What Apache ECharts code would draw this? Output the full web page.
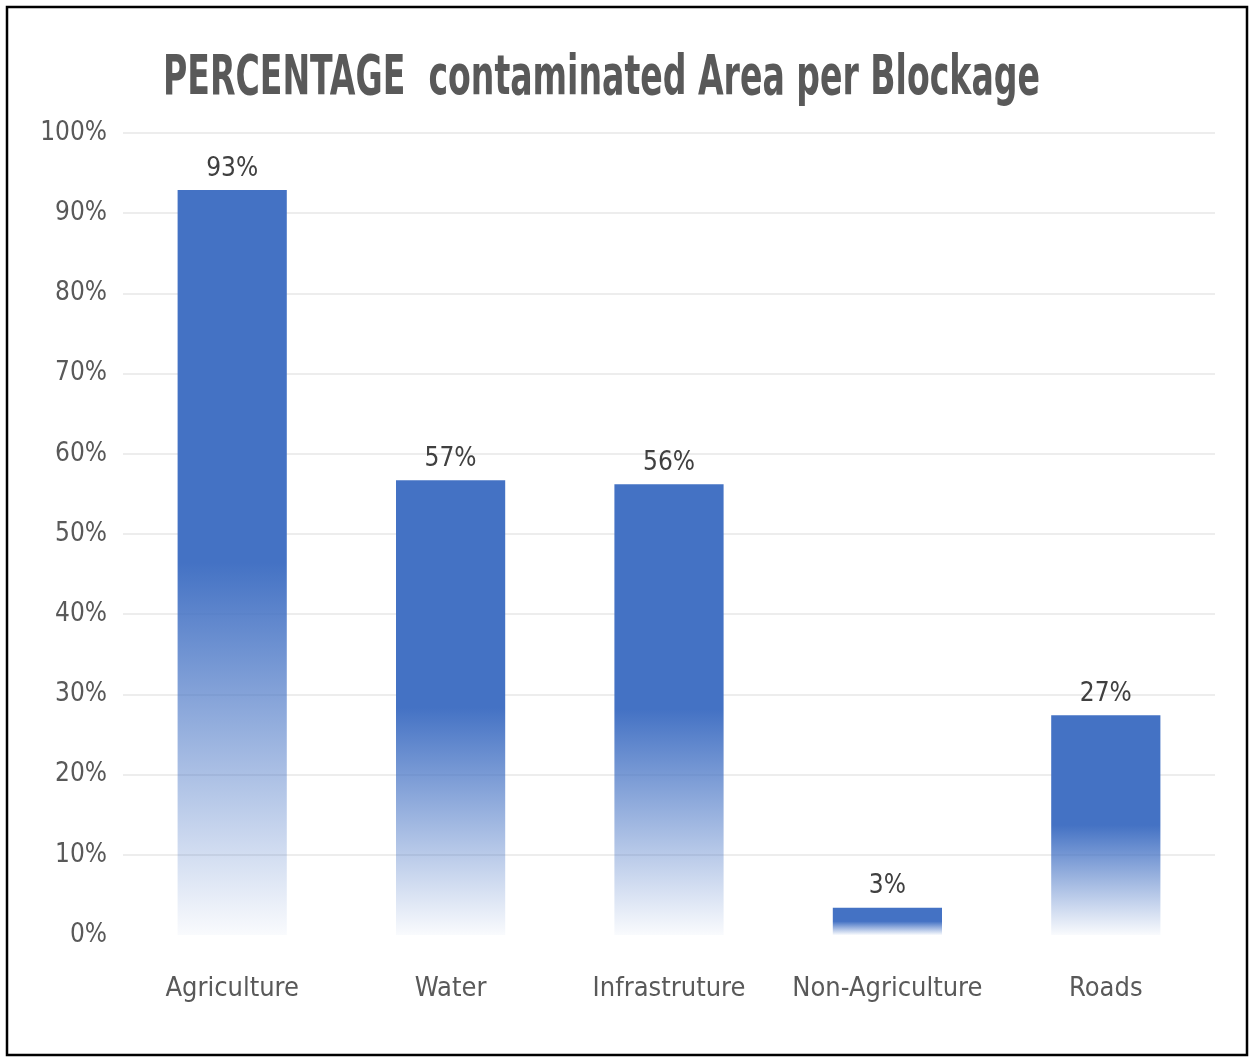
<!DOCTYPE html>
<html>
<head>
<meta charset="utf-8">
<script src="https://cdn.jsdelivr.net/npm/echarts@6/dist/echarts.min.js"></script>
<style>
html,body{margin:0;padding:0;background:#fff;}
#chart{width:1250px;height:1058px;}
</style>
</head>
<body>
<div id="chart"></div>
<script>
const categories = ['Agriculture', 'Water', 'Infrastruture', 'Non-Agriculture', 'Roads'];
const values = [0.929, 0.567, 0.562, 0.034, 0.274];
const yTicks = [0, 0.1, 0.2, 0.3, 0.4, 0.5, 0.6, 0.7, 0.8, 0.9, 1.0];
const titleText = 'PERCENTAGE  contaminated Area per Blockage';

const FONT = "'DejaVu Sans Condensed', 'Roboto', sans-serif";
const chart = echarts.init(document.getElementById('chart'), null, {renderer: 'canvas'});
const gridColors = yTicks.map((t, i) => i === 0 ? 'rgba(0,0,0,0)' : '#ededed');

chart.setOption({
  animation: false,
  backgroundColor: '#ffffff',
  grid: {left: 123, right: 35, top: 133, bottom: 123, containLabel: false},
  xAxis: {
    type: 'category',
    data: categories,
    axisLine: {show: false},
    axisTick: {show: false},
    axisLabel: {interval: 0, fontFamily: FONT, fontSize: 27, color: '#595959', margin: 40}
  },
  yAxis: {
    type: 'value',
    min: 0, max: 1, interval: 0.1,
    axisLine: {show: false},
    axisTick: {show: false},
    splitLine: {show: true, lineStyle: {color: gridColors, width: 2}},
    axisLabel: {
      fontFamily: FONT, fontSize: 26, color: '#595959', margin: 16, align: 'right',
      formatter: v => Math.round(v * 100) + '%'
    }
  },
  series: [{
    type: 'bar',
    data: values,
    barWidth: '50%',
    itemStyle: {
      color: new echarts.graphic.LinearGradient(0, 0, 0, 1, [
        {offset: 0, color: '#4472c4'},
        {offset: 0.5, color: '#4472c4'},
        {offset: 1, color: 'rgba(68,114,196,0.03)'}
      ])
    },
    label: {
      show: true, position: 'top', distance: 8,
      fontFamily: FONT, fontSize: 26, color: '#404040',
      formatter: p => Math.round(p.value * 100) + '%'
    }
  }],
  graphic: [{
    type: 'text',
    x: 163, y: 79,
    scaleX: 1.023, scaleY: 1.55,
    style: {
      text: titleText, fontFamily: FONT, fontWeight: 'bold', fontSize: 36,
      fill: '#595959', verticalAlign: 'middle', align: 'left'
    },
    silent: true
  }, {
    type: 'rect',
    shape: {x: 7, y: 7, width: 1240, height: 1048},
    style: {fill: 'none', stroke: '#000', lineWidth: 2.5},
    silent: true, z: 100
  }]
});
</script>
</body>
</html>
